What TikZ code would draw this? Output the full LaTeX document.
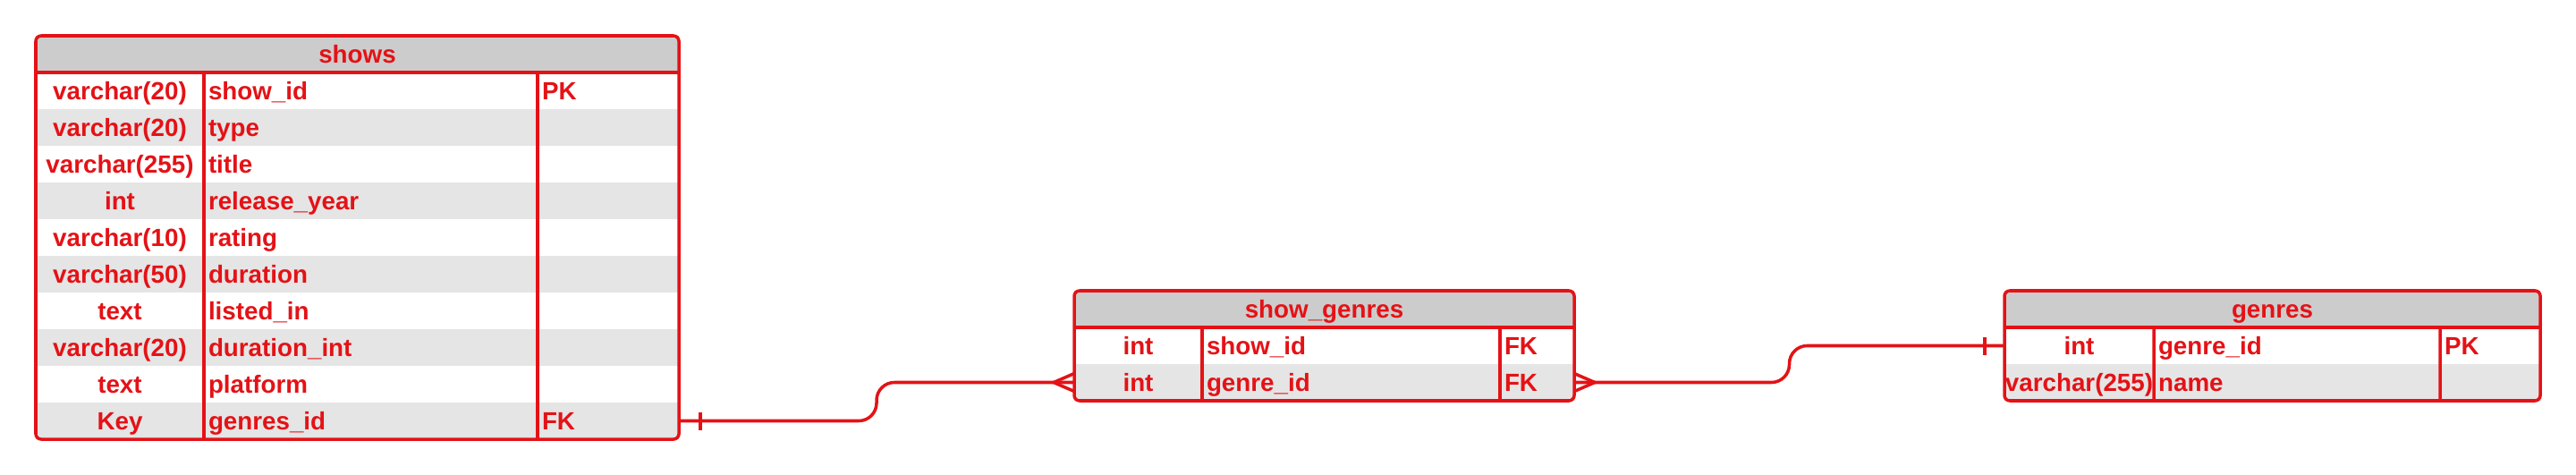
\documentclass[tikz,border=0pt]{standalone}
\usepackage{fontspec}
\setmainfont{Liberation Sans}
\usetikzlibrary{positioning,fit,calc}
\definecolor{ErdRed}{RGB}{228,18,22}
\definecolor{HeadGray}{gray}{0.8}
\definecolor{RowGray}{gray}{0.9}

\begin{document}
\begin{tikzpicture}[node distance=0cm, every node/.style={font=\bfseries\fontsize{7.9}{9}\selectfont, text=ErdRed, outer sep=0pt}]
\tikzstyle{cell}=[minimum height=0.41cm, text height=1.5ex, text depth=0.4ex, inner xsep=0.05cm, inner ysep=0pt]
\tikzstyle{hd}=[cell, fill=HeadGray, anchor=north west]
\tikzstyle{whiterow}=[cell, fill=white]
\tikzstyle{greyrow}=[cell, fill=RowGray]
\tikzstyle{nm}=[align=left]
\tikzstyle{rule}=[draw=ErdRed, line width=1pt]
\tikzstyle{frame}=[rule, rounded corners=0.06cm, inner sep=0pt]
\tikzstyle{conn}=[draw=ErdRed, line width=1pt]
% column widths
\tikzstyle{sA}=[minimum width=1.88cm]
\tikzstyle{sB}=[nm, text width=3.63cm]
\tikzstyle{sC}=[nm, text width=1.48cm]
\tikzstyle{gA}=[minimum width=1.43cm]
\tikzstyle{gB}=[nm, text width=3.23cm]
\tikzstyle{gC}=[nm, text width=0.73cm]
\tikzstyle{rA}=[minimum width=1.67cm, inner xsep=0.01cm]
\tikzstyle{rB}=[nm, text width=3.10cm]
\tikzstyle{rC}=[nm, text width=1.02cm]

\useasboundingbox (0,0) rectangle (28.8,-5.31);

% shows
\node[hd, minimum width=7.19cm] (shows) at (0.40,-0.40) {shows};
\node[whiterow, sA, below=of shows.south west, anchor=north west] (s1a) {varchar(20)};
\node[whiterow, sB, right=of s1a] (s1b) {show\_id};
\node[whiterow, sC, right=of s1b] (s1c) {PK};
\node[greyrow, sA, below=of s1a] (s2a) {varchar(20)};
\node[greyrow, sB, right=of s2a] (s2b) {type};
\node[greyrow, sC, right=of s2b] (s2c) {};
\node[whiterow, sA, below=of s2a] (s3a) {varchar(255)};
\node[whiterow, sB, right=of s3a] (s3b) {title};
\node[whiterow, sC, right=of s3b] (s3c) {};
\node[greyrow, sA, below=of s3a] (s4a) {int};
\node[greyrow, sB, right=of s4a] (s4b) {release\_year};
\node[greyrow, sC, right=of s4b] (s4c) {};
\node[whiterow, sA, below=of s4a] (s5a) {varchar(10)};
\node[whiterow, sB, right=of s5a] (s5b) {rating};
\node[whiterow, sC, right=of s5b] (s5c) {};
\node[greyrow, sA, below=of s5a] (s6a) {varchar(50)};
\node[greyrow, sB, right=of s6a] (s6b) {duration};
\node[greyrow, sC, right=of s6b] (s6c) {};
\node[whiterow, sA, below=of s6a] (s7a) {text};
\node[whiterow, sB, right=of s7a] (s7b) {listed\_in};
\node[whiterow, sC, right=of s7b] (s7c) {};
\node[greyrow, sA, below=of s7a] (s8a) {varchar(20)};
\node[greyrow, sB, right=of s8a] (s8b) {duration\_int};
\node[greyrow, sC, right=of s8b] (s8c) {};
\node[whiterow, sA, below=of s8a] (s9a) {text};
\node[whiterow, sB, right=of s9a] (s9b) {platform};
\node[whiterow, sC, right=of s9b] (s9c) {};
\node[greyrow, sA, below=of s9a] (s10a) {Key};
\node[greyrow, sB, right=of s10a] (s10b) {genres\_id};
\node[greyrow, sC, right=of s10b] (s10c) {FK};
\draw[rule] (s1a.north west) -- (s1c.north east);
\draw[rule] (s1a.north east) -- (s10a.south east);
\draw[rule] (s1b.north east) -- (s10b.south east);
\node[frame, fit=(shows)(s10c)] (showsbox) {};

% show_genres
\node[hd, minimum width=5.59cm] (showgenres) at (12.01,-3.25) {show\_genres};
\node[whiterow, gA, below=of showgenres.south west, anchor=north west] (g1a) {int};
\node[whiterow, gB, right=of g1a] (g1b) {show\_id};
\node[whiterow, gC, right=of g1b] (g1c) {FK};
\node[greyrow, gA, below=of g1a] (g2a) {int};
\node[greyrow, gB, right=of g2a] (g2b) {genre\_id};
\node[greyrow, gC, right=of g2b] (g2c) {FK};
\draw[rule] (g1a.north west) -- (g1c.north east);
\draw[rule] (g1a.north east) -- (g2a.south east);
\draw[rule] (g1b.north east) -- (g2b.south east);
\node[frame, fit=(showgenres)(g2c)] (showgenresbox) {};

% genres
\node[hd, minimum width=5.99cm] (genres) at (22.41,-3.25) {genres};
\node[whiterow, rA, below=of genres.south west, anchor=north west] (r1a) {int};
\node[whiterow, rB, right=of r1a] (r1b) {genre\_id};
\node[whiterow, rC, right=of r1b] (r1c) {PK};
\node[greyrow, rA, below=of r1a] (r2a) {varchar(255)};
\node[greyrow, rB, right=of r2a] (r2b) {name};
\node[greyrow, rC, right=of r2b] (r2c) {};
\draw[rule] (r1a.north west) -- (r1c.north east);
\draw[rule] (r1a.north east) -- (r2a.south east);
\draw[rule] (r1b.north east) -- (r2b.south east);
\node[frame, fit=(genres)(r2c)] (genresbox) {};

% relations
\coordinate (bend1) at ($(s10c.east)!0.5!(g2a.west)$);
\coordinate (bend2) at ($(g2c.east)!0.5!(r1a.west)$);
\draw[conn, rounded corners=0.2cm] (s10c.east) -- (bend1 |- s10c.east) -- (bend1 |- g2a.west) -- (g2a.west);
\draw[conn] ([xshift=0.24cm]s10c.east) ++(0,0.1) -- ++(0,-0.2);
\draw[conn] ([yshift=0.1cm]g2a.west) -- ([xshift=-0.23cm]g2a.west) -- ([yshift=-0.1cm]g2a.west);
\draw[conn, rounded corners=0.2cm] (g2c.east) -- (bend2 |- g2c.east) -- (bend2 |- r1a.west) -- (r1a.west);
\draw[conn] ([yshift=0.1cm]g2c.east) -- ([xshift=0.23cm]g2c.east) -- ([yshift=-0.1cm]g2c.east);
\draw[conn] ([xshift=-0.22cm]r1a.west) ++(0,0.1) -- ++(0,-0.2);
\end{tikzpicture}
\end{document}
